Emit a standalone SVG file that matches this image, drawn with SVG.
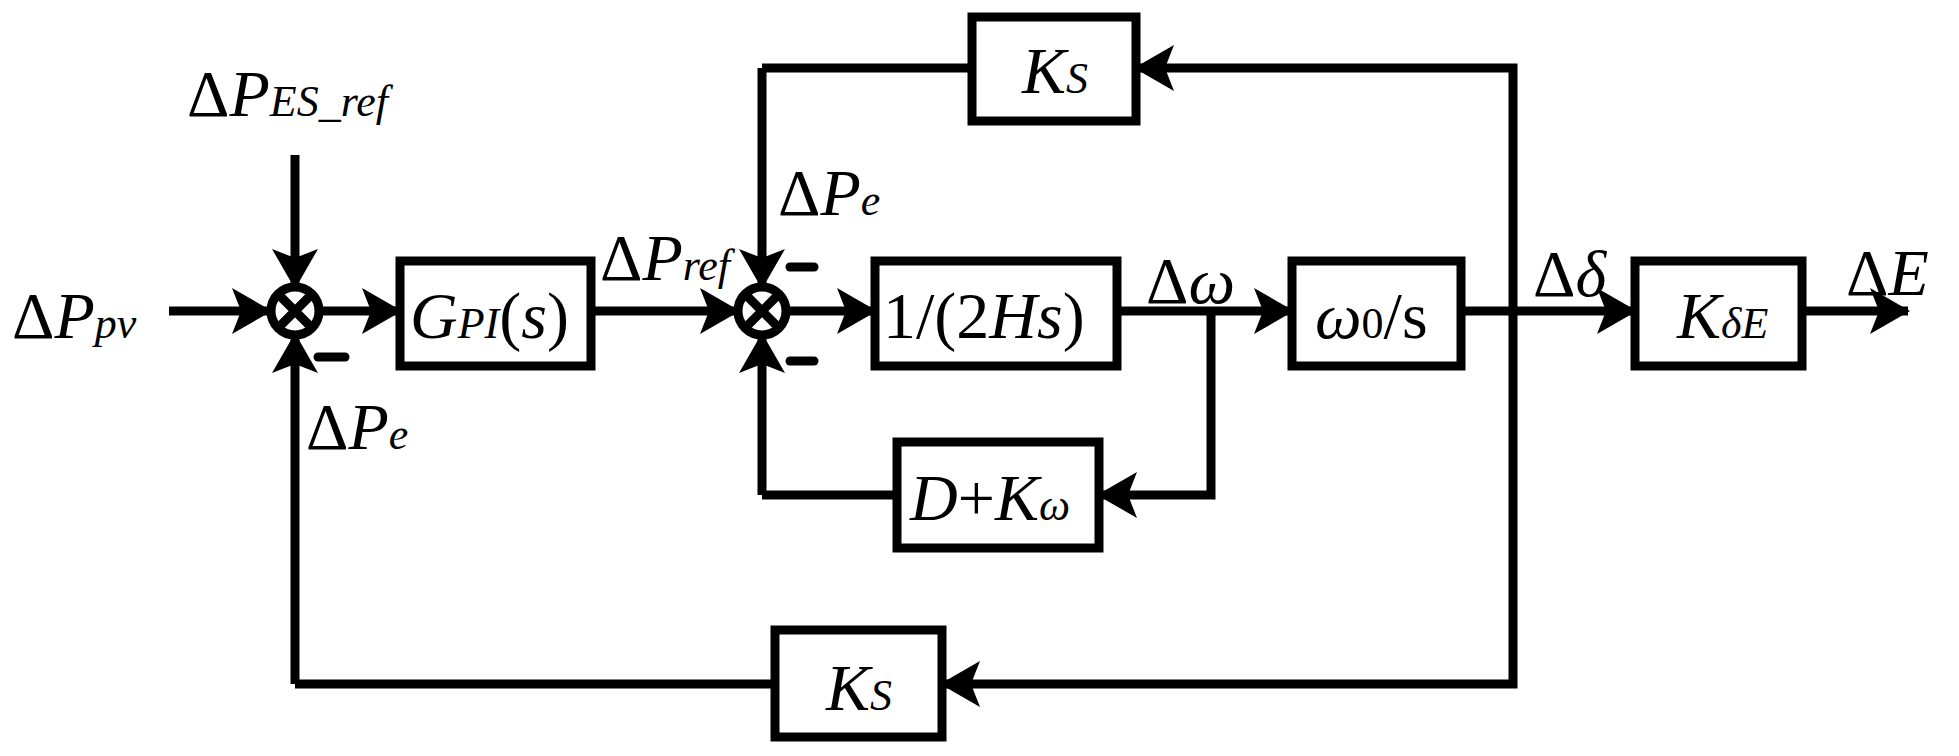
<svg xmlns="http://www.w3.org/2000/svg" width="1959" height="756" viewBox="0 0 1959 756">
<style>
.b{fill:#fff;stroke:#000;stroke-width:9}
.l{fill:none;stroke:#000;stroke-width:9;stroke-linejoin:miter}
.a{marker-end:url(#ah)}
.t{font-family:"Liberation Serif",serif;font-size:66px;fill:#000}
.i{font-style:italic}
.s{font-size:44px}
.m{stroke:#000;stroke-width:9;stroke-linecap:round}
</style>
<defs>
<marker id="ah" markerUnits="userSpaceOnUse" viewBox="0 0 40 46" markerWidth="40" markerHeight="46" refX="38" refY="23" orient="auto">
<path d="M0,0 L40,23 L0,46 L9,23 z" fill="#000"/>
</marker>
</defs>
<g id="connectors">
<path class="l a" d="M169,311 H270"/>
<path class="l a" d="M295,155 V287"/>
<path class="l a" d="M295,684 V335"/>
<path class="l a" d="M319,311 H400"/>
<path class="l a" d="M591,311 H738"/>
<path class="l a" d="M762,68 V287"/>
<path class="l a" d="M762,495 V335"/>
<path class="l a" d="M786,311 H875"/>
<path class="l a" d="M1117,311 H1292"/>
<path class="l a" d="M1211,311 V495 H1099"/>
<path class="l" d="M1461,311 H1513"/>
<path class="l a" d="M1513,311 H1635"/>
<path class="l a" d="M1513,311 V68 H1136"/>
<path class="l a" d="M1513,311 V684 H942"/>
<path class="l" d="M775,684 H295"/>
<path class="l" d="M972,68 H762"/>
<path class="l" d="M897,495 H762"/>
<path class="l a" d="M1802,311 H1908"/>
<line class="m" x1="318" y1="357" x2="345" y2="357"/>
<line class="m" x1="790" y1="267" x2="814" y2="267"/>
<line class="m" x1="790" y1="361" x2="814" y2="361"/>
</g>
<g id="sum1">
<circle class="b" cx="295" cy="311" r="24"/>
<path class="l" d="M278,294 L312,328 M312,294 L278,328"/>
</g>
<g id="sum2">
<circle class="b" cx="762" cy="311" r="24"/>
<path class="l" d="M745,294 L779,328 M779,294 L745,328"/>
</g>
<g id="gpi">
<rect class="b" x="400" y="261" width="191" height="105"/>
<text class="t" x="410" y="338"><tspan class="i">G</tspan><tspan class="i s">PI</tspan>(<tspan class="i">s</tspan>)</text>
</g>
<g id="inertia">
<rect class="b" x="875" y="261" width="242" height="105"/>
<text class="t" x="883" y="338">1/(2<tspan class="i">Hs</tspan>)</text>
</g>
<g id="damp">
<rect class="b" x="897" y="442" width="202" height="106"/>
<text class="t" x="910" y="520"><tspan class="i">D</tspan>+<tspan class="i">K</tspan><tspan class="i s">ω</tspan></text>
</g>
<g id="integ">
<rect class="b" x="1292" y="261" width="169" height="105"/>
<text class="t" x="1315" y="338"><tspan class="i">ω</tspan><tspan class="s">0</tspan>/s</text>
</g>
<g id="kde">
<rect class="b" x="1635" y="261" width="167" height="105"/>
<text class="t" x="1677" y="338"><tspan class="i">K</tspan><tspan class="i s">δE</tspan></text>
</g>
<g id="ks_top">
<rect class="b" x="972" y="17" width="164" height="104"/>
<text class="t" x="1022" y="93"><tspan class="i">K</tspan><tspan class="i s">S</tspan></text>
</g>
<g id="ks_bot">
<rect class="b" x="775" y="630" width="167" height="107"/>
<text class="t" x="826" y="710"><tspan class="i">K</tspan><tspan class="i s">S</tspan></text>
</g>
<g id="labels">
<text class="t" x="12" y="338">Δ<tspan class="i">P</tspan><tspan class="i s">pv</tspan></text>
<text class="t" x="187" y="116">Δ<tspan class="i">P</tspan><tspan class="i s">ES_ref</tspan></text>
<text class="t" x="306" y="449">Δ<tspan class="i">P</tspan><tspan class="i s">e</tspan></text>
<text class="t" x="778" y="215">Δ<tspan class="i">P</tspan><tspan class="i s">e</tspan></text>
<text class="t" x="600" y="280">Δ<tspan class="i">P</tspan><tspan class="i s">ref</tspan></text>
<text class="t" x="1146" y="303">Δ<tspan class="i">ω</tspan></text>
<text class="t" x="1533" y="296">Δ<tspan class="i">δ</tspan></text>
<text class="t" x="1846" y="295">Δ<tspan class="i">E</tspan></text>
</g>
</svg>
